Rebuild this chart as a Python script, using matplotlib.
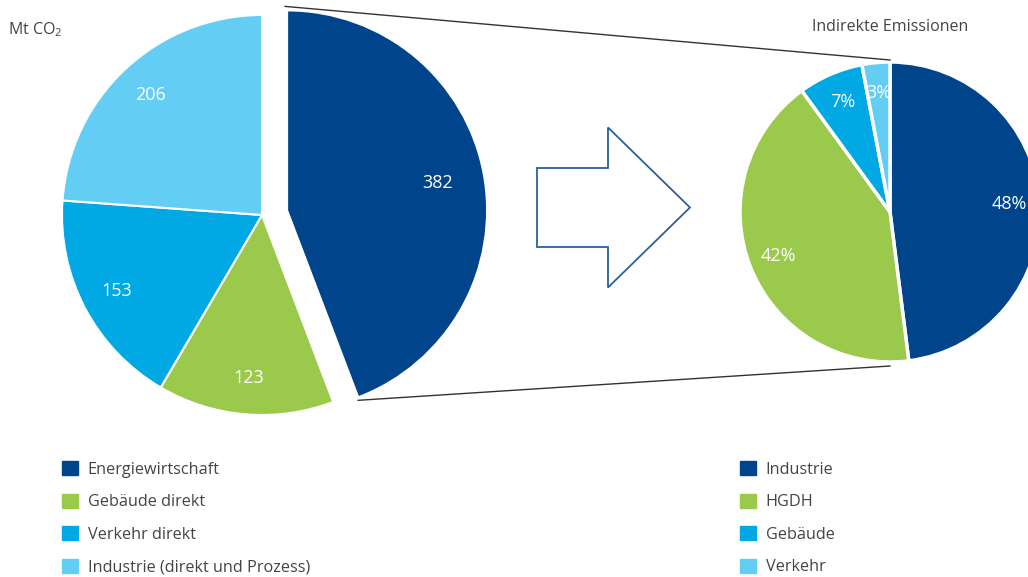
import matplotlib.pyplot as plt
from matplotlib.patches import FancyArrow, Patch
import numpy as np

plt.rcParams['font.family'] = ['Open Sans', 'DejaVu Sans']
plt.rcParams['mathtext.default'] = 'regular'

# Direct emissions by sector (Mt CO2)
sectors = ['Energiewirtschaft', 'Gebäude direkt', 'Verkehr direkt',
           'Industrie (direkt und Prozess)']
emissions = [382, 123, 153, 206]

# Split of the indirect emissions (%)
indirect_labels = ['Industrie', 'HGDH', 'Gebäude', 'Verkehr']
indirect_share = [48, 42, 7, 3]

colors = ['#00458b', '#9bc94b', '#00a8e4', '#64cdf3']
text_color = '#444444'

W, H = 1028, 577
fig = plt.figure(figsize=(W / 100, H / 100), dpi=100)
ax = fig.add_axes([0, 0, 1, 1])

# left pie, in pixel-like data units (explode is absolute here)
c1, r1 = (262, H - 215), 200
explode = [25.5, 0, 0, 0]
wedges1, _, auto1 = ax.pie(
    emissions, colors=colors, startangle=90, counterclock=False,
    center=c1, radius=r1, explode=explode,
    autopct=lambda p: f'{p * sum(emissions) / 100:.0f}', pctdistance=0.82,
    wedgeprops=dict(edgecolor='white', linewidth=1.5),
    textprops=dict(color='white', fontsize=13))

# pull the label of the big slice a bit inward
w = wedges1[0]
tm = np.deg2rad((w.theta1 + w.theta2) / 2)
auto1[0].set_position((w.center[0] + 0.765 * r1 * np.cos(tm),
                       w.center[1] + 0.765 * r1 * np.sin(tm)))

# right pie, partly outside the figure
c2, r2 = (890, H - 212), 150
wedges2, _, auto2 = ax.pie(
    indirect_share, colors=colors, startangle=90, counterclock=False,
    center=c2, radius=r2,
    autopct=lambda p: f'{p:.0f}%', pctdistance=0.8,
    wedgeprops=dict(edgecolor='white', linewidth=2.5),
    textprops=dict(color='white', fontsize=13))

ax.set_xlim(0, W)
ax.set_ylim(0, H)
ax.set_aspect('equal')
ax.axis('off')

# connector lines from the exploded slice to the right pie
cx, cy = w.center
t1, t2 = np.deg2rad(w.theta1), np.deg2rad(w.theta2)
top = (cx + r1 * np.cos(t2) - 2, cy + r1 * np.sin(t2) + 4)
bot = (cx + r1 * np.cos(t1), cy + r1 * np.sin(t1) - 3)
ax.plot([top[0], c2[0]], [top[1], c2[1] + r2 + 2], color='#333333', lw=1)
ax.plot([bot[0], c2[0]], [bot[1], c2[1] - r2 - 4], color='#333333', lw=1)

# hollow arrow between the two pies
ax.add_patch(FancyArrow(537, H - 207.5, 153, 0, width=79, head_width=160,
                        head_length=82, length_includes_head=True,
                        fill=False, edgecolor='#2c5f9e', linewidth=1.3))

ax.text(8, H - 30, r'Mt CO$_2$', fontsize=11.5, color=text_color,
        va='center', ha='left')
ax.text(812, H - 27, 'Indirekte Emissionen', fontsize=11.5,
        color=text_color, va='center', ha='left')

legend_kw = dict(frameon=False, fontsize=11.7, handlelength=0.98,
                 handleheight=0.98, handletextpad=0.6, labelspacing=0.97,
                 labelcolor=text_color, borderaxespad=0, borderpad=0)
leg1 = fig.legend([Patch(color=c) for c in colors], sectors,
                  loc='upper left', bbox_to_anchor=(62 / W, 1 - 461 / H),
                  **legend_kw)
leg2 = fig.legend([Patch(color=c) for c in colors], indirect_labels,
                  loc='upper left', bbox_to_anchor=(740 / W, 1 - 461 / H),
                  **legend_kw)

fig.savefig('out.png', dpi=100)
